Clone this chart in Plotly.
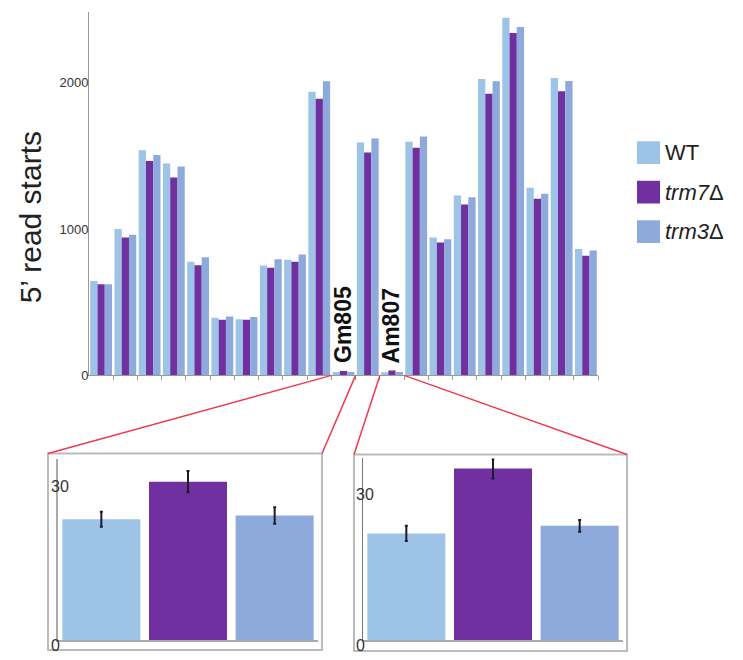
import plotly.graph_objects as go

# 5' read-start counts per position (21 positions), three strains
strains = ["WT", "trm7Δ", "trm3Δ"]
strain_labels = ["WT", "<i>trm7</i>Δ", "<i>trm3</i>Δ"]
colors = ["#9DC3E6", "#7030A0", "#8EA9DB"]

# Mean counts and error at the two modified sites
gm805_mean = [22.8, 29.9, 23.5]
gm805_err = [1.4, 2.0, 1.55]
am807_mean = [21.2, 34.1, 22.7]
am807_err = [1.5, 2.0, 1.15]

wt_counts = [645, 999, 1537, 1447, 776, 393, 384, 751, 789, 1938, gm805_mean[0],
             1591, am807_mean[0], 1596, 942, 1228, 2024, 2442, 1281, 2031, 864]
trm7_counts = [623, 942, 1465, 1352, 753, 380, 380, 735, 776, 1889, gm805_mean[1],
               1523, am807_mean[1], 1555, 907, 1168, 1924, 2339, 1206, 1940, 817]
trm3_counts = [623, 960, 1505, 1427, 807, 402, 398, 794, 826, 2009, gm805_mean[2],
               1618, am807_mean[2], 1632, 929, 1217, 2009, 2380, 1241, 2011, 853]

positions = list(range(len(wt_counts)))
site_labels = ["Gm805", "Am807"]
site_positions = [10, 12]

main_ticks = [0, 1000, 2000]
inset_ticks = [0, 30]

W, H = 743, 660


def px(x):
    return x / W


def py(y):
    return 1 - y / H


fig = go.Figure()

for name, vals, col in zip(strains, [wt_counts, trm7_counts, trm3_counts], colors):
    fig.add_trace(go.Bar(x=positions, y=vals, name=name, marker=dict(color=col, line=dict(width=0)),
                         showlegend=False, xaxis="x", yaxis="y"))

# Inset panels
for i, (means, errs) in enumerate([(gm805_mean, gm805_err), (am807_mean, am807_err)]):
    ax = str(i + 2)
    fig.add_trace(go.Bar(
        x=[0, 1, 2], y=means, width=0.9,
        marker=dict(color=colors, line=dict(width=0)),
        error_y=dict(type="data", array=errs, visible=True, color="#1b1b2a", thickness=2, width=1.5),
        showlegend=False, xaxis="x" + ax, yaxis="y" + ax))

fig.update_layout(
    width=W, height=H,
    margin=dict(l=0, r=0, t=0, b=0),
    paper_bgcolor="white", plot_bgcolor="white",
    barmode="group", bargap=0.1, bargroupgap=0,
    font=dict(family="Liberation Sans, Arial, sans-serif", color="#333"),
    xaxis=dict(domain=[px(89), px(598)], range=[-0.5, 20.5], showgrid=False, zeroline=False,
               showline=True, linecolor="#9a9a90", linewidth=1,
               tickvals=[p + 0.5 for p in positions], ticks="outside", ticklen=4,
               tickcolor="#9a9a90", showticklabels=False),
    yaxis=dict(domain=[py(380), py(12)], range=[0, 2483], showgrid=False, zeroline=False,
               showline=True, linecolor="#999", linewidth=1,
               tickvals=main_ticks, ticktext=[str(t) for t in main_ticks], ticks="",
               ticklabelstandoff=-3, tickfont=dict(size=13, color="#333")),
    xaxis2=dict(domain=[px(58), px(318)], range=[-0.5, 2.5], showgrid=False, zeroline=False,
                showline=True, linecolor="#aaa", linewidth=2, showticklabels=False, ticks="",
                anchor="y2"),
    yaxis2=dict(domain=[py(648), py(465)], range=[0, 34.1], showgrid=False, zeroline=False,
                showline=True, linecolor="#aaa", linewidth=2, showticklabels=False, ticks="",
                anchor="x2"),
    xaxis3=dict(domain=[px(363), px(623)], range=[-0.5, 2.5], showgrid=False, zeroline=False,
                showline=True, linecolor="#aaa", linewidth=2, showticklabels=False, ticks="",
                anchor="y3"),
    yaxis3=dict(domain=[py(648), py(464)], range=[0, 36.1], showgrid=False, zeroline=False,
                showline=True, linecolor="#777", linewidth=1, showticklabels=False, ticks="",
                anchor="x3"),
)

annotations = []
# Axis title
annotations.append(dict(text="5’ read starts", xref="paper", yref="paper", x=px(30), y=py(220),
                        xanchor="center", yanchor="middle",
                        textangle=-90, showarrow=False, font=dict(size=30, color="#222")))
# Site labels above the near-empty bars
for lab, pos in zip(site_labels, site_positions):
    annotations.append(dict(text="<b>" + lab + "</b>", x=pos, y=71, xref="x", yref="y",
                            textangle=-90, yanchor="bottom", showarrow=False,
                            font=dict(size=23, color="#111")))
# Inset tick labels
for yref, x0 in [("y2", 49), ("y3", 354)]:
    for t in inset_ticks:
        annotations.append(dict(text=str(t), xref="paper", yref=yref, x=px(x0), y=t,
                                xanchor="left", yanchor="middle", yshift=-5, showarrow=False,
                                font=dict(size=16, color="#333")))
# Legend
legend_rows = [154.5, 194.5, 234.5]
shapes = []
for lab, col, yc in zip(strain_labels, colors, legend_rows):
    shapes.append(dict(type="rect", xref="paper", yref="paper", x0=px(637), x1=px(660),
                       y0=py(yc + 11.5), y1=py(yc - 11.5), fillcolor=col, line=dict(width=0)))
    annotations.append(dict(text=lab, xref="paper", yref="paper", x=px(663), y=py(yc),
                            xanchor="left", yanchor="middle", showarrow=False,
                            font=dict(size=22, color="#222")))

# Inset frames
for x0, x1, y0, y1 in [(48, 322, 459, 658), (354, 627, 460, 659)]:
    shapes.append(dict(type="rect", xref="paper", yref="paper", x0=px(x0), x1=px(x1),
                       y0=py(y1), y1=py(y0), line=dict(color="#bbbbbb", width=2),
                       fillcolor="rgba(0,0,0,0)"))

# Connector lines from the main axis to the insets
for xa, xb, yb in [(331.5, 48, 459), (355.6, 322, 459), (379.9, 354, 460), (404.1, 627, 460)]:
    shapes.append(dict(type="line", xref="paper", yref="paper", x0=px(xa), y0=py(380),
                       x1=px(xb), y1=py(yb), line=dict(color="#f03a4c", width=1.5)))

fig.update_layout(annotations=annotations, shapes=shapes)

fig.write_html("out.html")
